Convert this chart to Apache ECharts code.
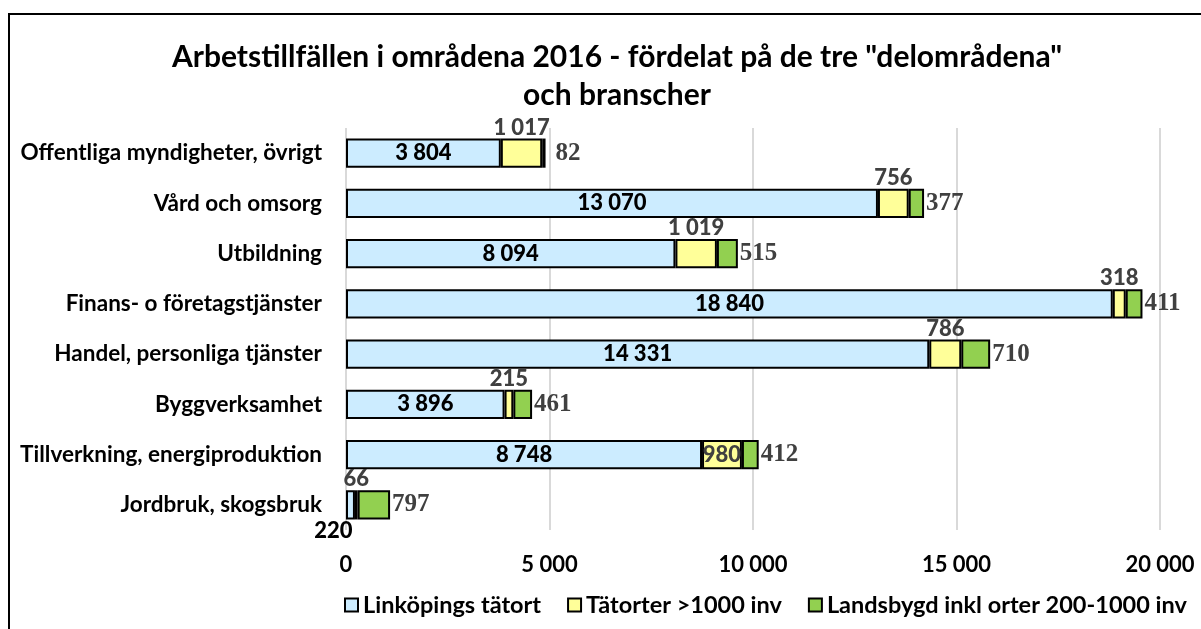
<!DOCTYPE html>
<html>
<head>
<meta charset="utf-8">
<script src="https://cdn.jsdelivr.net/npm/echarts@6.0.0/dist/echarts.min.js"></script>
<style>
  html, body { margin: 0; padding: 0; background: #fff; }
  #chart { width: 1201px; height: 629px; }
</style>
</head>
<body>
<div id="chart"></div>
<script>
// categories, top to bottom
const categories = [
  'Offentliga myndigheter, övrigt',
  'Vård och omsorg',
  'Utbildning',
  'Finans- o företagstjänster',
  'Handel, personliga tjänster',
  'Byggverksamhet',
  'Tillverkning, energiproduktion',
  'Jordbruk, skogsbruk'
]
const seriesNames = ['Linköpings tätort', 'Tätorter >1000 inv', 'Landsbygd inkl orter 200-1000 inv']
const linkoping = [3804, 13070, 8094, 18840, 14331, 3896, 8748, 220]
const tatorter = [1017, 756, 1019, 318, 786, 215, 980, 66]
const landsbygd = [82, 377, 515, 411, 710, 461, 412, 797]
const xTicks = [0, 5000, 10000, 15000, 20000]

const FONT = 'Lato, "Open Sans", sans-serif'
const SERIF = '"Liberation Serif", "DejaVu Serif", serif'
const fmt = v => String(v).replace(/\B(?=(\d{3})+(?!\d))/g, ' ')

const chart = echarts.init(document.getElementById('chart'))

// label style shared by the bar series
function labelStyle(extra) {
  return Object.assign({
    show: true,
    formatter: p => fmt(p.value),
    fontFamily: FONT,
    fontSize: 22,
    fontWeight: 900,
    color: '#000',
    textBorderWidth: 0
  }, extra)
}

// small per-bar label tweaks (Excel labels were moved by hand)
function blueData() {
  return linkoping.map((v, i) => {
    if (i === 7) {
      return { value: v, label: { position: 'bottom', distance: 0, offset: [-17, 0] } }
    }
    return v
  })
}
function yellowData() {
  return tatorter.map((v, i) => {
    if (i === 6) {
      return { value: v, label: { position: 'inside', distance: 0 } }
    }
    return v
  })
}
function greenData() {
  return landsbygd.map((v, i) => {
    if (i === 0) {
      return { value: v, label: { distance: 10 } }
    }
    return v
  })
}

chart.setOption({
  animation: false,
  textStyle: { fontFamily: FONT },
  title: {
    text: 'Arbetstillfällen i områdena 2016 - fördelat på de tre "delområdena"\noch branscher',
    left: 612,
    textAlign: 'center',
    top: 33,
    textStyle: { fontFamily: FONT, fontSize: 30, fontWeight: 'bold', color: '#000', lineHeight: 38 }
  },
  graphic: [{
    type: 'rect',
    shape: { x: 9, y: 14, width: 1205, height: 630 },
    style: { fill: 'none', stroke: '#000', lineWidth: 2 },
    silent: true
  }],
  legend: {
    top: 588,
    left: 339,
    itemWidth: 13,
    itemHeight: 13,
    itemGap: 26,
    icon: 'rect',
    data: seriesNames,
    textStyle: { fontFamily: FONT, fontSize: 23.5, fontWeight: 'bold', color: '#000' }
  },
  grid: { left: 346, right: 41, top: 128, bottom: 99, containLabel: false },
  xAxis: {
    type: 'value',
    min: xTicks[0],
    max: xTicks[xTicks.length - 1],
    interval: 5000,
    axisLine: { show: false },
    axisTick: { show: false },
    splitLine: { lineStyle: { color: '#d9d9d9', width: 2 } },
    axisLabel: {
      margin: 24,
      fontFamily: FONT, fontSize: 22, fontWeight: 'bold', color: '#000',
      formatter: fmt
    }
  },
  yAxis: {
    type: 'category',
    inverse: true,
    data: categories,
    axisLine: { show: false },
    axisTick: { show: false },
    axisLabel: { margin: 24, fontFamily: FONT, fontSize: 22.5, fontWeight: 'bold', color: '#000' }
  },
  series: [
    {
      name: seriesNames[0],
      type: 'bar',
      stack: 'total',
      barCategoryGap: '42%',
      data: blueData(),
      itemStyle: { color: '#CCECFF', borderColor: '#000', borderWidth: 2 },
      label: labelStyle({ position: 'inside' })
    },
    {
      name: seriesNames[1],
      type: 'bar',
      stack: 'total',
      data: yellowData(),
      itemStyle: { color: '#FFFF99', borderColor: '#000', borderWidth: 2 },
      label: labelStyle({ position: 'top', distance: 0, color: '#404040' })
    },
    {
      name: seriesNames[2],
      type: 'bar',
      stack: 'total',
      data: greenData(),
      itemStyle: { color: '#92D050', borderColor: '#000', borderWidth: 2 },
      label: labelStyle({ position: 'right', distance: 2, fontFamily: SERIF, fontSize: 25, fontWeight: 'bold', color: '#404040' })
    }
  ]
})
</script>
</body>
</html>
